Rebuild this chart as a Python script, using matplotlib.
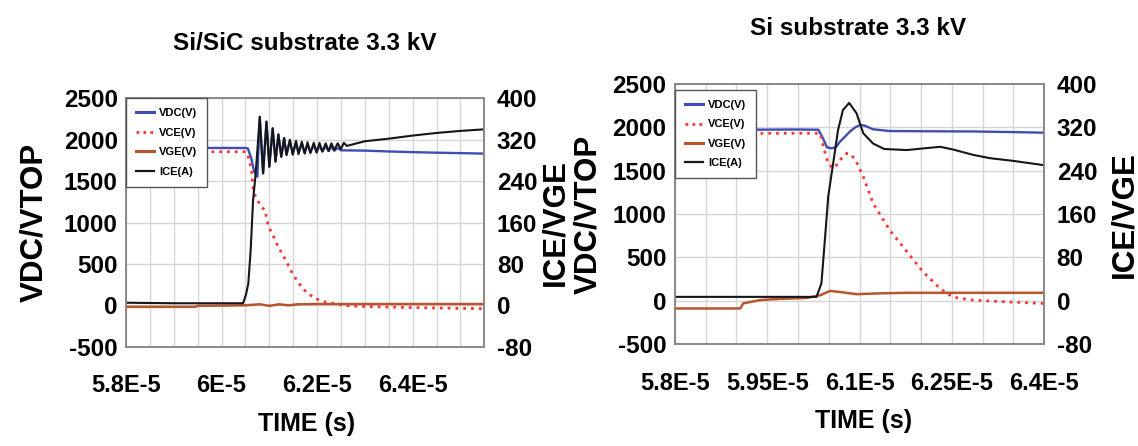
import numpy as np
import matplotlib
matplotlib.use('Agg')
import matplotlib.pyplot as plt
from matplotlib.lines import Line2D
from matplotlib.ticker import MultipleLocator

plt.rcParams['font.family'] = ['Liberation Sans Narrow', 'Liberation Sans', 'DejaVu Sans']
plt.rcParams['font.weight'] = 'bold'
plt.rcParams['axes.unicode_minus'] = False

# ---- Si/SiC substrate (times in microseconds) ----
sic_vdc_t = [58.0, 59.0, 60.0, 60.50, 60.55, 60.62, 60.68, 60.75,
             60.80, 60.87, 60.94, 61.00, 61.07, 61.13, 61.19, 61.25, 61.31, 61.36, 61.43, 61.49, 61.56, 61.61, 61.68,
             61.74, 61.80, 61.86, 61.93, 61.99, 62.05, 62.11, 62.18, 62.24, 62.30, 62.36, 62.43, 62.50,
             63.0, 63.5, 64.0, 64.5, 65.0, 65.5]
sic_vdc = [1900, 1902, 1900, 1900, 1895, 1780, 1620, 1553,
           2278, 1594, 2217, 1674, 2138, 1734, 2065, 1795, 2017, 1824, 1984, 1836, 1957, 1843, 1950,
           1845, 1942, 1850, 1935, 1856, 1928, 1860, 1920, 1864, 1912, 1866, 1902, 1872,
           1868, 1858, 1850, 1843, 1838, 1832]

sic_vce_t = [58.0, 60.50, 60.55, 60.60, 60.63, 60.66, 60.70, 60.77, 60.85, 60.91,
             60.98, 61.05, 61.15, 61.25, 61.36, 61.46, 61.57, 61.70, 61.85, 62.00,
             62.13, 62.34, 62.50, 62.69, 63.2, 63.73, 64.5, 65.0, 65.5]
sic_vce = [1855, 1855, 1820, 1700, 1614, 1413, 1330, 1251, 1180, 1151,
           949, 880, 749, 640, 527, 410, 306, 200, 125, 75,
           44, 24, 5, -8, -18, -24, -32, -37, -41]

sic_vge_t = [58.0, 59.45, 59.5, 60.0, 60.5, 60.8, 61.0, 61.2, 61.4, 61.6, 62.0, 65.5]
sic_vge = [-3, -3, -1, -0.5, 0, 2, -1, 2, 0, 2, 2.5, 2.5]

sic_ice_t = [58.0, 59.0, 60.0, 60.45, 60.51, 60.56, 60.61, 60.66, 60.71, 60.75,
             60.80, 60.87, 60.94, 61.00, 61.07, 61.13, 61.19, 61.25, 61.31, 61.36, 61.43, 61.49, 61.56, 61.61, 61.68,
             61.74, 61.80, 61.86, 61.93, 61.99, 62.05, 62.11, 62.18, 62.24, 62.30, 62.36, 62.43, 62.50, 62.56, 62.62,
             63.0, 63.5, 64.0, 64.5, 65.0, 65.5]
sic_ice = [5, 4, 4, 4, 20, 42, 107, 203, 250, 300,
           364, 255, 355, 268, 342, 278, 330, 287, 323, 290, 320, 291, 318, 292, 316,
           293, 315, 294, 314, 295, 314, 297, 313, 298, 313, 300, 313, 302, 314, 308,
           317, 322, 328, 333, 337, 340]

# ---- Si substrate ----
si_vdc_t = [58.0, 59.0, 60.0, 60.33, 60.40, 60.47, 60.55, 60.62, 60.68, 60.76,
            60.84, 60.93, 61.01, 61.08, 61.22, 61.49, 62.0, 62.85, 63.5, 64.0]
si_vdc = [1975, 1972, 1975, 1972, 1880, 1769, 1757, 1775, 1834, 1890,
          1949, 2000, 2027, 2020, 1977, 1957, 1955, 1952, 1945, 1938]

si_vce_t = [58.0, 60.36, 60.41, 60.49, 60.57, 60.62, 60.68, 60.79, 60.86, 60.95,
            61.06, 61.22, 61.49, 61.77, 62.03, 62.25, 62.41, 62.55, 62.85, 63.39, 64.0]
si_vce = [1931, 1931, 1776, 1584, 1527, 1560, 1622, 1700, 1690, 1600,
          1430, 1122, 814, 564, 333, 179, 83, 37, 6, -14, -32]

si_vge_t = [58.0, 59.06, 59.11, 59.38, 59.71, 60.14, 60.36, 60.52, 60.68, 60.95, 61.33, 61.77, 64.0]
si_vge = [-14.4, -14.4, -5, 1, 3.4, 5, 10, 18, 16, 12, 13.5, 14.5, 14.5]

si_ice_t = [58.0, 60.30, 60.38, 60.44, 60.49, 60.57, 60.65, 60.73, 60.83, 60.95,
            61.06, 61.22, 61.40, 61.77, 62.03, 62.31, 62.52, 62.85, 63.12, 63.50, 64.0]
si_ice = [7, 7, 32, 118, 192, 253, 315, 352, 365, 346,
          309, 290, 280, 278, 281, 284, 279, 269, 263, 258, 250]

sic_xticks = [58, 60, 62, 64]
sic_xlabels = ['5.8E-5', '6E-5', '6.2E-5', '6.4E-5']
si_xticks = [58, 59.5, 61, 62.5, 64]
si_xlabels = ['5.8E-5', '5.95E-5', '6.1E-5', '6.25E-5', '6.4E-5']
v_ticks = [-500, 0, 500, 1000, 1500, 2000, 2500]
i_ticks = [-80, 0, 80, 160, 240, 320, 400]
names = ['VDC(V)', 'VCE(V)', 'VGE(V)', 'ICE(A)']

BLUE = '#3d4db3'
RED = '#ff3535'
ORANGE = '#b8552d'
BLACK = '#161616'

fig = plt.figure(figsize=(11.38, 4.46), dpi=100)


def panel(rect, xlim, xticks, xlabels, vdc, vce, vge, ice, leg_top):
    ax = fig.add_axes(rect)
    ax2 = ax.twinx()
    ax.plot(vdc[0], vdc[1], color=BLUE, lw=1.7, zorder=3)
    ax.plot(vce[0], vce[1], color=RED, lw=2.0, ls=(0, (1, 1.8)), zorder=3)
    ax2.plot(vge[0], vge[1], color=ORANGE, lw=1.8)
    ax2.plot(ice[0], ice[1], color=BLACK, lw=1.5)

    ax.set_xlim(*xlim)
    ax.set_ylim(-500, 2500)
    ax2.set_ylim(-80, 400)
    ax.set_xticks(xticks)
    ax.set_xticklabels(xlabels)
    ax.xaxis.set_minor_locator(MultipleLocator(0.5))
    ax.set_yticks(v_ticks)
    ax2.set_yticks(i_ticks)
    ax.grid(True, which='both', color='#d6d6d6', lw=1.0)
    ax.set_axisbelow(True)
    ax.tick_params(axis='x', which='both', length=0, labelsize=17, pad=20)
    ax.tick_params(axis='y', length=0, labelsize=17.5, pad=6)
    ax2.tick_params(axis='y', length=0, labelsize=17.5, pad=9)
    for a in (ax, ax2):
        for s in a.spines.values():
            s.set_color('#8a8a8a')
            s.set_linewidth(1.3)

    handles = [Line2D([], [], color=BLUE, lw=2.2),
               Line2D([], [], color=RED, lw=2.0, ls=(0, (1, 1.5))),
               Line2D([], [], color=ORANGE, lw=2.2),
               Line2D([], [], color=BLACK, lw=1.6)]
    leg = ax2.legend(handles, names, loc='upper left', bbox_to_anchor=(0.0, leg_top),
                     borderaxespad=0, fancybox=False, framealpha=1, edgecolor='#555555',
                     fontsize=8, handlelength=1.6, handletextpad=0.5,
                     borderpad=0.9, labelspacing=0.85)
    leg.get_frame().set_linewidth(1.0)
    return ax, ax2


panel([0.1107, 0.2226, 0.3149, 0.557], (58, 65.5), sic_xticks, sic_xlabels,
      (sic_vdc_t, sic_vdc), (sic_vce_t, sic_vce), (sic_vge_t, sic_vge), (sic_ice_t, sic_ice), 1.0)
panel([0.5931, 0.2287, 0.3245, 0.583], (58, 64), si_xticks, si_xlabels,
      (si_vdc_t, si_vdc), (si_vce_t, si_vce), (si_vge_t, si_vge), (si_ice_t, si_ice), 0.977)

# titles and axis labels
fig.text(0.268, 0.888, 'Si/SiC substrate 3.3 kV', ha='center', va='baseline', fontsize=17.5)
fig.text(0.754, 0.921, 'Si substrate 3.3 kV', ha='center', va='baseline', fontsize=17.5)
fig.text(0.269, 0.049, 'TIME (s)', ha='center', va='center', fontsize=18)
fig.text(0.759, 0.056, 'TIME (s)', ha='center', va='center', fontsize=18)

ylab = dict(rotation=90, ha='center', va='center', fontsize=22.5, family=['Liberation Sans', 'DejaVu Sans'])
fig.text(0.030, 0.501, 'VDC/VTOP', **ylab)
fig.text(0.488, 0.500, 'ICE/VGE', **ylab)
fig.text(0.517, 0.520, 'VDC/VTOP', **ylab)
fig.text(0.988, 0.520, 'ICE/VGE', **ylab)

fig.savefig('out.png', dpi=100, facecolor='white')
